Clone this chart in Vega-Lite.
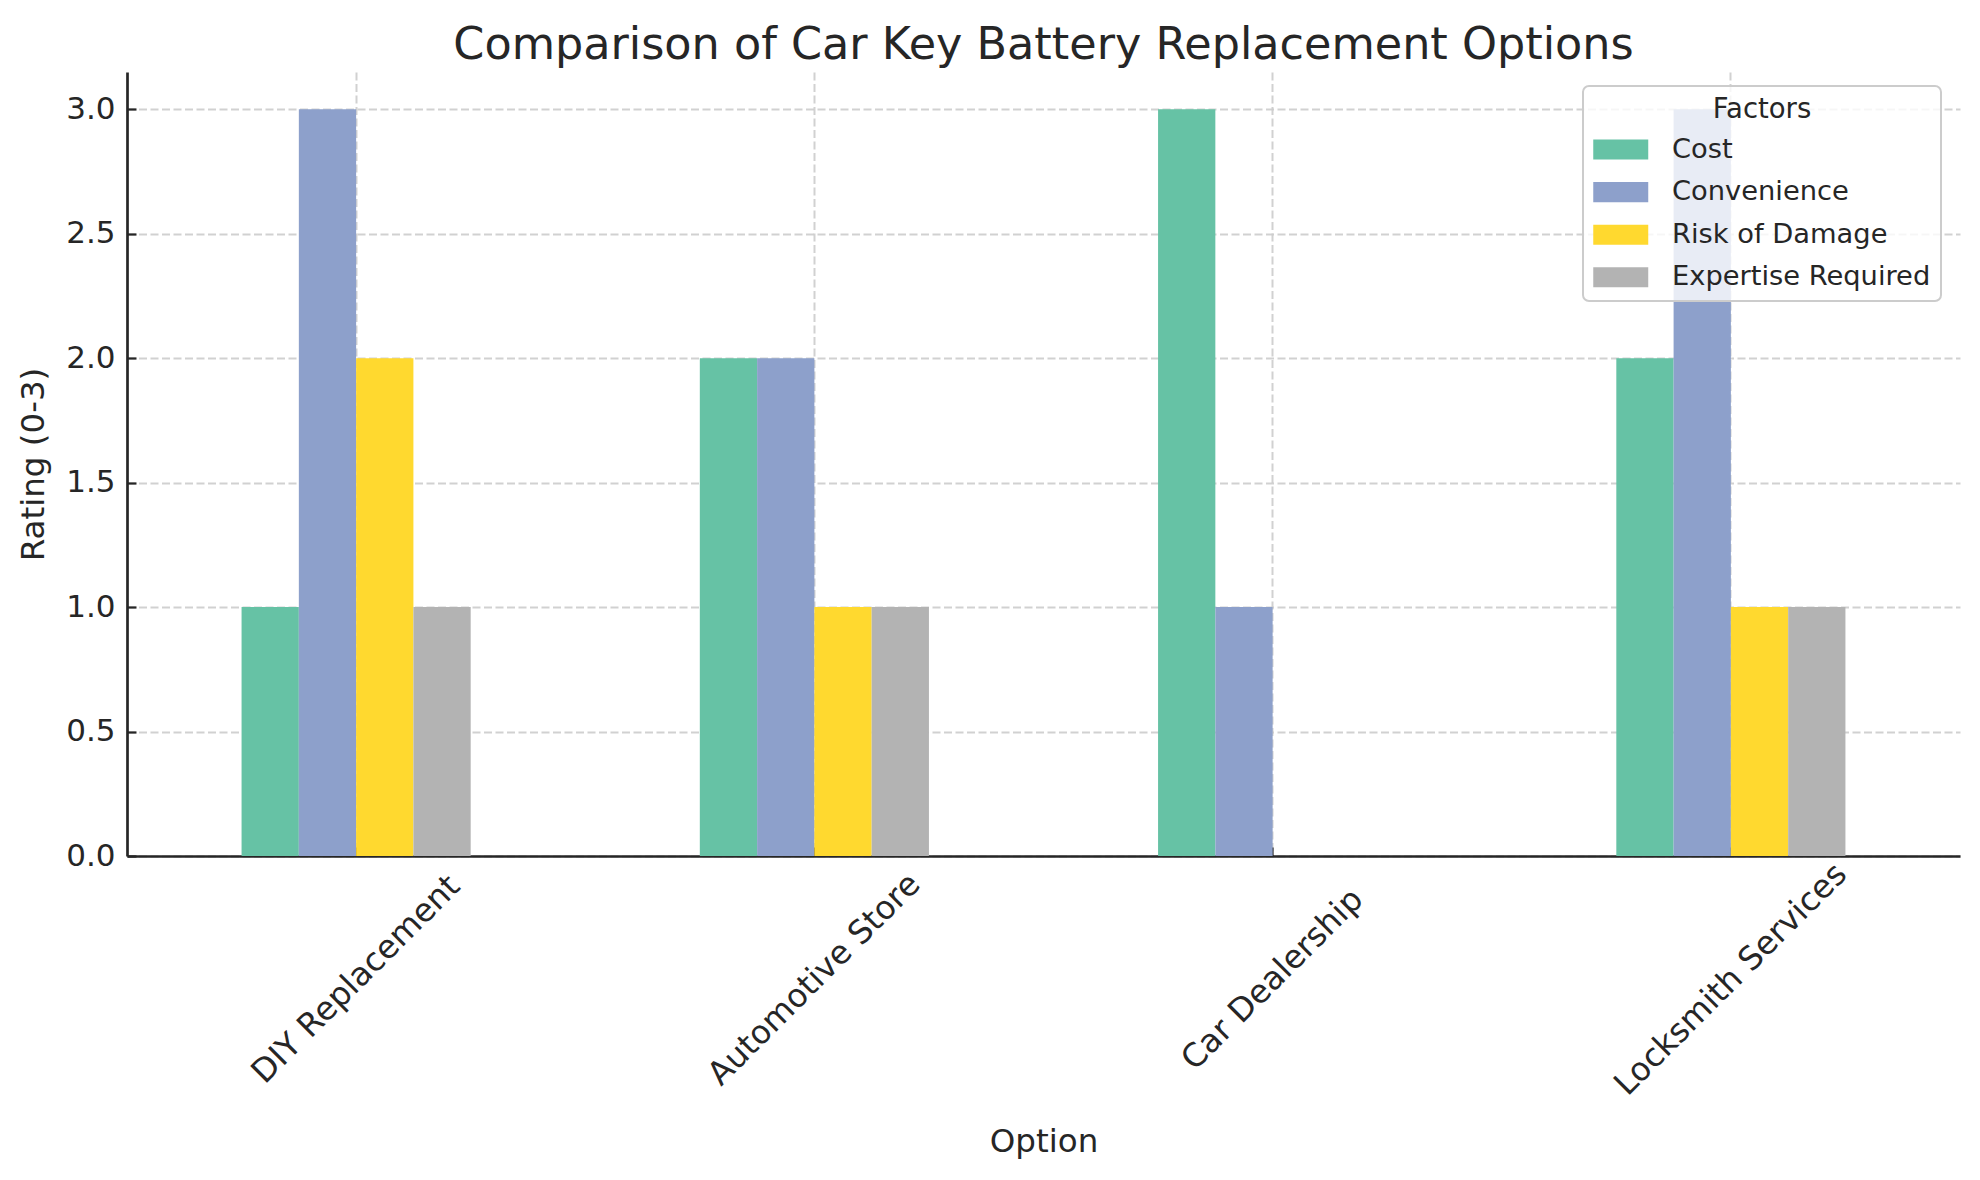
{
  "$schema": "https://vega.github.io/schema/vega-lite/v6.json",
  "autosize": {"type": "none"},
  "padding": {"left": 127, "top": 72, "right": 20, "bottom": 324},
  "width": 1833,
  "height": 784,
  "background": "white",
  "title": {
    "text": "Comparison of Car Key Battery Replacement Options",
    "fontSize": 44.5,
    "fontWeight": "normal",
    "font": "DejaVu Sans",
    "color": "#262626",
    "anchor": "middle",
    "baseline": "alphabetic",
    "offset": -31
  },
  "data": {
    "values": [
      {"Option": "DIY Replacement", "Factor": "Cost", "Rating": 1},
      {"Option": "DIY Replacement", "Factor": "Convenience", "Rating": 3},
      {"Option": "DIY Replacement", "Factor": "Risk of Damage", "Rating": 2},
      {"Option": "DIY Replacement", "Factor": "Expertise Required", "Rating": 1},
      {"Option": "Automotive Store", "Factor": "Cost", "Rating": 2},
      {"Option": "Automotive Store", "Factor": "Convenience", "Rating": 2},
      {"Option": "Automotive Store", "Factor": "Risk of Damage", "Rating": 1},
      {"Option": "Automotive Store", "Factor": "Expertise Required", "Rating": 1},
      {"Option": "Car Dealership", "Factor": "Cost", "Rating": 3},
      {"Option": "Car Dealership", "Factor": "Convenience", "Rating": 1},
      {"Option": "Car Dealership", "Factor": "Risk of Damage", "Rating": 0},
      {"Option": "Car Dealership", "Factor": "Expertise Required", "Rating": 0},
      {"Option": "Locksmith Services", "Factor": "Cost", "Rating": 2},
      {"Option": "Locksmith Services", "Factor": "Convenience", "Rating": 3},
      {"Option": "Locksmith Services", "Factor": "Risk of Damage", "Rating": 1},
      {"Option": "Locksmith Services", "Factor": "Expertise Required", "Rating": 1}
    ]
  },
  "mark": {"type": "bar"},
  "encoding": {
    "x": {
      "field": "Option",
      "type": "nominal",
      "sort": ["DIY Replacement", "Automotive Store", "Car Dealership", "Locksmith Services"],
      "scale": {"paddingInner": 0.5, "paddingOuter": 0.25},
      "axis": {
        "title": "Option",
        "labelAngle": -45,
        "labelAlign": "center",
        "labelBaseline": "middle",
        "labelFontSize": 32.5,
        "labelPadding": 132,
        "labelLimit": 0,
        "tickSize": -9,
        "bandPosition": 0.5,
        "titleY": 285,
        "titleBaseline": "middle"
      }
    },
    "xOffset": {
      "field": "Factor",
      "type": "nominal",
      "sort": ["Cost", "Convenience", "Risk of Damage", "Expertise Required"],
      "scale": {"paddingInner": 0, "paddingOuter": 0}
    },
    "y": {
      "field": "Rating",
      "type": "quantitative",
      "scale": {"domain": [0, 3.15], "nice": false, "zero": true},
      "axis": {
        "title": "Rating (0-3)",
        "values": [0, 0.5, 1, 1.5, 2, 2.5, 3],
        "format": ".1f",
        "labelPadding": 21,
        "tickSize": -9,
        "titleX": -94,
        "titleBaseline": "middle"
      }
    },
    "color": {
      "field": "Factor",
      "type": "nominal",
      "sort": ["Cost", "Convenience", "Risk of Damage", "Expertise Required"],
      "scale": {
        "domain": ["Cost", "Convenience", "Risk of Damage", "Expertise Required"],
        "range": ["#66c2a5", "#8da0cb", "#ffd92f", "#b3b3b3"]
      },
      "legend": {
        "title": "Factors",
        "orient": "none",
        "legendX": 1456,
        "legendY": 14,
        "fillColor": "rgba(255,255,255,0.8)",
        "strokeColor": "#cccccc",
        "cornerRadius": 6,
        "padding": 10,
        "titleAnchor": "middle",
        "titleFontSize": 27.5,
        "titleFontWeight": "normal",
        "titlePadding": 12,
        "labelFontSize": 27.3,
        "labelLimit": 0,
        "symbolType": "M-1,-0.73H3V0.73H-1Z",
        "symbolSize": 756,
        "symbolStrokeWidth": 0,
        "symbolOpacity": 1,
        "labelOffset": 51,
        "rowPadding": 14.6
      }
    }
  },
  "config": {
    "view": {"stroke": null},
    "font": "DejaVu Sans",
    "axis": {
      "zindex": 1,
      "labelFont": "DejaVu Sans",
      "labelFontSize": 31,
      "labelColor": "#262626",
      "titleFont": "DejaVu Sans",
      "titleFontSize": 32.5,
      "titleFontWeight": "normal",
      "titleColor": "#262626",
      "domainColor": "#262626",
      "domainWidth": 2.7,
      "tickColor": "#262626",
      "tickWidth": 2.2,
      "grid": true,
      "gridColor": "#cccccc",
      "gridOpacity": 0.9,
      "gridWidth": 2,
      "gridDash": [8, 3.5]
    },
    "legend": {
      "labelFont": "DejaVu Sans",
      "titleFont": "DejaVu Sans",
      "labelColor": "#262626",
      "titleColor": "#262626",
      "strokeWidth": 2
    }
  }
}
